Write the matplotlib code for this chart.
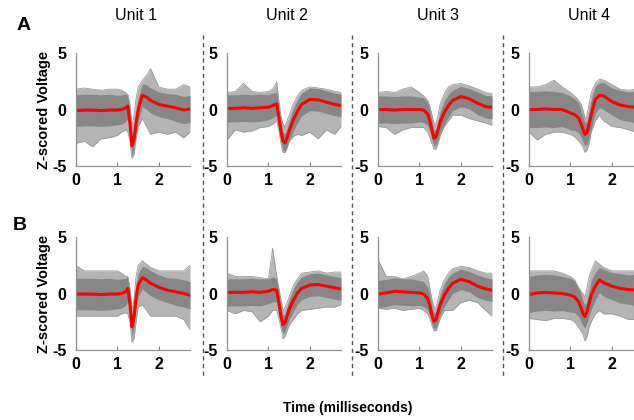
import numpy as np
import matplotlib
matplotlib.use("Agg")
import matplotlib.pyplot as plt

plt.rcParams['font.family'] = ['Liberation Sans', 'DejaVu Sans']

# ---- data ----
units = ["Unit 1", "Unit 2", "Unit 3", "Unit 4"]
rows = ["A", "B"]
t = [0, 0.2, 0.4, 0.6, 0.8, 1.0, 1.1, 1.2, 1.25, 1.3, 1.35, 1.4, 1.45, 1.5,
     1.6, 1.7, 1.8, 2.0, 2.2, 2.4, 2.6, 2.75]
x_ticks = [0, 1, 2]
y_ticks = [-5, 0, 5]

mean_A1 = [-0.1, -0.05, -0.05, -0.1, -0.05, -0.05, 0.0, 0.15, 0.3, -1.2, -3.2, -2.6, -1.2, 0.0, 1.25, 1.1, 0.8, 0.45, 0.3, 0.15, -0.05, 0.05]
hi_A1 = [1.8, 1.9, 1.8, 1.7, 1.8, 1.8, 1.7, 1.5, 1.3, 0.5, -1.5, -0.5, 1.0, 2.0, 2.6, 3.0, 3.6, 2.0, 1.8, 1.8, 2.2, 2.0]
lo_A1 = [-3.0, -2.8, -3.3, -2.6, -2.5, -2.3, -2.0, -1.8, -2.0, -2.8, -4.3, -4.0, -2.5, -1.5, -0.8, -1.5, -2.2, -2.0, -2.2, -2.0, -2.5, -2.0]

mean_A2 = [0.1, 0.1, 0.15, 0.1, 0.15, 0.2, 0.35, 0.5, -0.7, -1.9, -2.8, -2.95, -2.5, -1.9, -0.9, -0.15, 0.45, 0.9, 0.85, 0.65, 0.45, 0.35]
hi_A2 = [1.5, 1.6, 2.3, 1.6, 1.5, 1.6, 1.8, 2.4, 0.8, -0.6, -1.3, -1.5, -1.0, -0.5, 0.5, 1.2, 1.7, 2.0, 1.9, 1.8, 1.6, 1.5]
lo_A2 = [-2.7, -1.8, -2.0, -1.9, -1.6, -1.5, -1.3, -1.0, -1.8, -3.0, -3.8, -3.8, -3.4, -2.8, -2.4, -2.2, -2.3, -2.0, -2.6, -1.8, -2.2, -1.5]

mean_A3 = [0.0, 0.0, -0.05, 0.0, 0.0, 0.0, -0.05, -0.4, -1.0, -1.8, -2.55, -2.4, -1.8, -1.1, -0.25, 0.35, 0.8, 1.15, 0.95, 0.55, 0.25, 0.2]
hi_A3 = [1.5, 1.6, 1.5, 1.8, 2.0, 1.5, 1.2, 0.8, 0.3, -0.5, -1.2, -1.2, -0.5, 0.5, 1.4, 2.0, 2.2, 2.3, 2.1, 1.8, 1.5, 1.4]
lo_A3 = [-1.5, -1.6, -2.2, -1.8, -1.6, -1.6, -1.6, -2.0, -2.5, -3.0, -3.5, -3.5, -3.0, -2.3, -1.5, -1.0, -0.5, -0.5, -0.8, -1.0, -1.2, -1.4]

mean_A4 = [0.0, 0.0, 0.05, 0.0, 0.0, -0.3, -0.45, -0.75, -1.2, -1.75, -2.2, -2.05, -1.3, -0.45, 0.9, 1.25, 1.2, 0.7, 0.4, 0.25, 0.2, 0.2]
hi_A4 = [2.0, 2.0, 2.2, 2.6, 2.0, 1.5, 1.2, 0.8, 0.5, 0.0, -0.8, -0.5, 0.5, 1.5, 2.3, 2.7, 2.6, 2.2, 1.8, 1.7, 1.8, 1.7]
lo_A4 = [-2.0, -2.7, -2.2, -2.0, -2.0, -2.2, -2.4, -2.8, -3.0, -3.3, -3.8, -3.6, -3.0, -2.0, -1.0, -0.5, -1.0, -1.5, -1.6, -1.8, -2.0, -2.0]

mean_B1 = [-0.05, -0.05, -0.05, -0.1, -0.05, -0.05, 0.0, 0.15, 0.45, -0.9, -2.95, -2.05, -0.3, 0.75, 1.4, 1.2, 0.9, 0.55, 0.3, 0.15, 0.0, -0.15]
hi_B1 = [2.5, 2.0, 2.0, 2.0, 2.0, 2.0, 1.8, 1.5, 1.5, 0.5, -1.5, -0.5, 1.5, 2.5, 2.9, 2.6, 2.3, 2.0, 2.0, 2.0, 2.0, 2.5]
lo_B1 = [-2.0, -2.0, -2.0, -2.0, -2.0, -2.0, -1.8, -1.7, -1.8, -2.5, -4.3, -4.0, -2.5, -1.2, -1.0, -1.5, -2.0, -2.0, -2.0, -2.0, -2.3, -3.2]

mean_B2 = [0.1, 0.1, 0.1, 0.15, 0.1, 0.2, 0.35, 0.3, -0.8, -2.0, -2.75, -2.6, -2.0, -1.4, -0.6, 0.05, 0.45, 0.75, 0.8, 0.65, 0.5, 0.4]
hi_B2 = [1.8, 1.5, 1.5, 1.5, 1.4, 1.3, 4.0, 1.5, 0.5, -0.5, -1.5, -1.2, -0.8, -0.3, 0.7, 1.3, 1.8, 1.9, 2.0, 1.8, 1.9, 1.9]
lo_B2 = [-1.5, -1.8, -1.5, -1.6, -2.5, -2.0, -1.5, -1.5, -2.2, -3.0, -4.0, -3.8, -3.3, -2.8, -2.3, -1.8, -1.5, -1.4, -1.3, -1.2, -1.2, -1.0]

mean_B3 = [-0.05, 0.05, 0.2, 0.15, 0.1, 0.05, -0.05, -0.45, -1.05, -1.9, -2.45, -2.3, -1.6, -1.0, -0.15, 0.45, 0.9, 1.25, 1.05, 0.65, 0.4, 0.3]
hi_B3 = [3.0, 1.5, 1.5, 1.3, 1.5, 1.8, 2.0, 1.5, 0.5, -0.5, -1.2, -1.2, -0.5, 0.3, 1.2, 1.8, 2.2, 2.4, 2.3, 2.0, 1.8, 1.8]
lo_B3 = [-1.3, -1.4, -1.3, -1.5, -1.4, -1.3, -1.5, -1.8, -2.2, -2.8, -3.3, -3.3, -2.8, -2.2, -1.5, -1.5, -1.5, -0.8, -0.6, -0.8, -1.5, -2.0]

mean_B4 = [-0.1, 0.05, 0.1, 0.05, 0.0, -0.15, -0.3, -0.75, -1.2, -1.75, -2.05, -1.6, -0.9, -0.15, 0.65, 1.2, 0.95, 0.65, 0.45, 0.35, 0.3, 0.3]
hi_B4 = [2.0, 2.0, 2.0, 2.0, 1.8, 1.5, 1.2, 0.5, 0.2, 0.0, -0.3, 0.5, 1.5, 2.0, 2.9, 2.6, 2.3, 2.0, 2.0, 2.0, 2.0, 2.0]
lo_B4 = [-2.2, -2.3, -2.4, -2.2, -2.2, -2.3, -2.5, -3.0, -3.3, -3.6, -4.2, -3.8, -3.0, -2.5, -1.8, -1.5, -1.8, -1.8, -2.0, -2.3, -2.3, -2.3]

# half-width of the dense core of traces, per unit
core_u1 = [1.4, 1.4, 1.4, 1.4, 1.4, 1.3, 1.3, 1.2, 1.1, 1.0, 0.9, 0.9, 1.0, 1.0, 1.0, 1.1, 1.1, 1.1, 1.1, 1.2, 1.2, 1.2]
core_u2 = [1.2, 1.2, 1.2, 1.2, 1.2, 1.1, 1.1, 1.0, 0.9, 0.9, 0.8, 0.8, 0.8, 0.9, 1.0, 1.0, 1.0, 1.0, 1.0, 1.0, 1.0, 1.0]
core_u3 = [1.2, 1.2, 1.2, 1.2, 1.2, 1.1, 1.1, 1.0, 0.9, 0.8, 0.7, 0.7, 0.8, 0.9, 1.0, 1.0, 0.9, 0.9, 0.9, 1.0, 1.0, 1.0]
core_u4 = [1.6, 1.6, 1.6, 1.6, 1.5, 1.5, 1.4, 1.3, 1.2, 1.1, 1.0, 1.0, 1.1, 1.3, 1.2, 1.1, 1.2, 1.2, 1.3, 1.3, 1.4, 1.4]

means = [[mean_A1, mean_A2, mean_A3, mean_A4], [mean_B1, mean_B2, mean_B3, mean_B4]]
his = [[hi_A1, hi_A2, hi_A3, hi_A4], [hi_B1, hi_B2, hi_B3, hi_B4]]
los = [[lo_A1, lo_A2, lo_A3, lo_A4], [lo_B1, lo_B2, lo_B3, lo_B4]]
cores = [core_u1, core_u2, core_u3, core_u4]

# ---- figure ----
W, H = 634, 420
fig = plt.figure(figsize=(W / 100, H / 100), dpi=100)

def fx(px):
    return px / W

def fy(py):
    return 1 - py / H

col_left = [76, 227, 378, 529]
ax_w = 114
row_top = [53, 237]
ax_h = 113

tt = np.array(t)
for r in range(2):
    for c in range(4):
        ax = fig.add_axes([fx(col_left[c]), fy(row_top[r] + ax_h), ax_w / W, ax_h / H])
        m = np.array(means[r][c])
        hi = np.array(his[r][c])
        lo = np.array(los[r][c])
        cw = np.array(cores[c])
        ax.fill_between(tt, lo, hi, color='#b4b4b4', lw=0)
        ax.plot(tt, hi, color='#9a9a9a', lw=0.6)
        ax.plot(tt, lo, color='#9a9a9a', lw=0.6)
        ax.fill_between(tt, np.clip(m - cw, lo, hi), np.clip(m + cw, lo, hi),
                        color='#868686', lw=0)
        ax.plot(tt, m, color='#ff0000', lw=2.2, solid_capstyle='round')
        ax.set_xlim(0, 2.75)
        ax.set_ylim(-5, 5)
        ax.set_xticks(x_ticks)
        ax.set_yticks(y_ticks)
        ax.set_xticklabels([str(v) for v in x_ticks], fontweight='bold', fontsize=11.5)
        ax.set_yticklabels([str(v) for v in y_ticks], fontweight='bold', fontsize=11.5)
        ax.tick_params(axis='x', direction='in', length=3, color='#808080', pad=5)
        ax.tick_params(axis='y', length=0, pad=7)
        for s in ['top', 'right']:
            ax.spines[s].set_visible(False)
        for s in ['left', 'bottom']:
            ax.spines[s].set_color('#909090')
            ax.spines[s].set_linewidth(0.9)
        ax.patch.set_alpha(0)
        if r == 0:
            fig.text(fx(col_left[c] + 60), fy(16), units[c], ha='center', va='center',
                     fontsize=11.5)
    fig.text(fx(44), fy(row_top[r] + ax_h / 2), "Z-scored Voltage", rotation=90,
             ha='center', va='center', fontsize=10.5, fontweight='bold')

fig.text(fx(24), fy(25), "A", ha='center', va='center', fontsize=14, fontweight='bold')
fig.text(fx(20), fy(225), "B", ha='center', va='center', fontsize=14, fontweight='bold')
fig.text(fx(348), fy(408), "Time (milliseconds)", ha='center', va='center',
         fontsize=10, fontweight='bold')

for xp in [203, 352, 503]:
    fig.add_artist(plt.Line2D([fx(xp), fx(xp)], [fy(35), fy(378)], color='#555555',
                              lw=1.0, linestyle=(0, (3, 2.5)), transform=fig.transFigure))

fig.savefig("out.png", dpi=100)
